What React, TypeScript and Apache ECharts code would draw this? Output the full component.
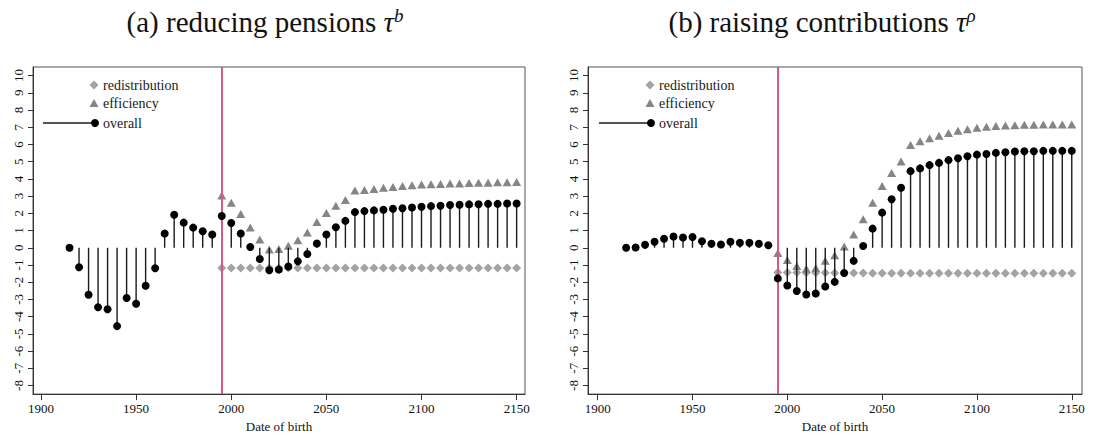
import React, { useEffect, useRef } from 'react';
import * as echarts from 'echarts';

// ---------- data ----------
const birthYears = [
  1915, 1920, 1925, 1930, 1935, 1940, 1945, 1950, 1955, 1960, 1965, 1970, 1975, 1980, 1985, 1990,
  1995, 2000, 2005, 2010, 2015, 2020, 2025, 2030, 2035, 2040, 2045, 2050, 2055, 2060, 2065, 2070,
  2075, 2080, 2085, 2090, 2095, 2100, 2105, 2110, 2115, 2120, 2125, 2130, 2135, 2140, 2145, 2150,
];
const reformYears = [
  1995, 2000, 2005, 2010, 2015, 2020, 2025, 2030, 2035, 2040, 2045, 2050, 2055, 2060, 2065, 2070,
  2075, 2080, 2085, 2090, 2095, 2100, 2105, 2110, 2115, 2120, 2125, 2130, 2135, 2140, 2145, 2150,
];

// (a) reducing pensions
const pensionsOverall = [
  0, -1.13, -2.73, -3.46, -3.57, -4.55, -2.92, -3.25, -2.21, -1.19, 0.83, 1.92, 1.46, 1.17, 0.96, 0.77,
  1.84, 1.44, 0.83, 0.04, -0.65, -1.31, -1.27, -1.09, -0.79, -0.36, 0.25, 0.77, 1.19, 1.56, 2.07, 2.13,
  2.17, 2.21, 2.27, 2.3, 2.34, 2.38, 2.42, 2.44, 2.48, 2.5, 2.52, 2.53, 2.55, 2.55, 2.57, 2.57,
];
const pensionsEfficiency = [
  3.03, 2.61, 1.96, 1.17, 0.48, -0.1, -0.07, 0.11, 0.44, 0.88, 1.5, 2.02, 2.44, 2.78, 3.32, 3.36,
  3.42, 3.48, 3.53, 3.59, 3.63, 3.67, 3.69, 3.71, 3.73, 3.74, 3.76, 3.78, 3.78, 3.8, 3.8, 3.82,
];
const pensionsRedistribution = [
  -1.17, -1.17, -1.17, -1.17, -1.17, -1.17, -1.17, -1.17, -1.17, -1.17, -1.17, -1.17, -1.17, -1.17, -1.17, -1.17,
  -1.17, -1.17, -1.17, -1.17, -1.17, -1.17, -1.17, -1.17, -1.17, -1.17, -1.17, -1.17, -1.17, -1.17, -1.17, -1.17,
];

// (b) raising contributions
const contribOverall = [
  0, 0.02, 0.17, 0.35, 0.52, 0.65, 0.6, 0.63, 0.38, 0.23, 0.19, 0.35, 0.29, 0.29, 0.23, 0.15,
  -1.78, -2.19, -2.51, -2.71, -2.66, -2.25, -1.98, -1.47, -0.76, 0.1, 1.11, 2.04, 2.82, 3.49, 4.45, 4.61,
  4.8, 4.93, 5.09, 5.2, 5.32, 5.41, 5.45, 5.51, 5.55, 5.59, 5.61, 5.61, 5.63, 5.63, 5.63, 5.63,
];
const contribEfficiency = [
  -0.3, -0.71, -1.06, -1.22, -1.17, -0.75, -0.44, 0.08, 0.77, 1.65, 2.61, 3.59, 4.34, 5.01, 5.97, 6.18,
  6.36, 6.51, 6.66, 6.8, 6.89, 6.97, 7.03, 7.07, 7.1, 7.12, 7.14, 7.14, 7.16, 7.16, 7.16, 7.16,
];
const contribRedistribution = [
  -1.44, -1.44, -1.44, -1.45, -1.45, -1.45, -1.46, -1.46, -1.47, -1.47, -1.48, -1.48, -1.48, -1.48, -1.48, -1.48,
  -1.48, -1.48, -1.48, -1.48, -1.48, -1.48, -1.48, -1.48, -1.48, -1.48, -1.48, -1.48, -1.48, -1.48, -1.48, -1.48,
];

const xTickValues = [1900, 1950, 2000, 2050, 2100, 2150];
const yTickValues = [-8, -7, -6, -5, -4, -3, -2, -1, 0, 1, 2, 3, 4, 5, 6, 7, 8, 9, 10];
const reformYear = 1995;
const legendNames = ['redistribution', 'efficiency', 'overall'];

// ---------- styling ----------
const SERIF = "'Liberation Serif', 'Times New Roman', serif";
const RED = '#d65a7e';
const DIAMOND = '#a3a3a3';
const TRI = '#858585';

const zip = (xs: number[], ys: number[]) => xs.map((x, i) => [x, ys[i]]);

function panelAxes(gridIndex: number, xmin: number, xmax: number) {
  const x = {
    gridIndex,
    type: 'value',
    min: xmin,
    max: xmax,
    axisLine: { show: true, onZero: false, lineStyle: { color: '#333', width: 1 } },
    axisTick: { show: true, customValues: xTickValues, length: 6, lineStyle: { color: '#333' } },
    axisLabel: {
      customValues: xTickValues,
      formatter: (v: number) => String(v),
      fontFamily: SERIF,
      fontSize: 13,
      color: '#111',
      margin: 8,
    },
    splitLine: { show: false },
    name: 'Date of birth',
    nameLocation: 'middle',
    nameGap: 24,
    nameTextStyle: { fontFamily: SERIF, fontSize: 13, color: '#111' },
  };
  const y = {
    gridIndex,
    type: 'value',
    min: -8.5,
    max: 10.5,
    axisLine: { show: true, onZero: false, lineStyle: { color: '#333', width: 1 } },
    axisTick: { show: true, customValues: yTickValues, length: 5, lineStyle: { color: '#333' } },
    axisLabel: {
      customValues: yTickValues,
      formatter: (v: number) => String(v),
      rotate: 90,
      fontFamily: SERIF,
      fontSize: 13,
      color: '#111',
      margin: 8,
    },
    splitLine: { show: false },
  };
  return { x, y };
}

function panelSeries(idx: number, overall: number[], eff: number[], redis: number[]) {
  return [
    {
      name: legendNames[0],
      type: 'scatter',
      xAxisIndex: idx,
      yAxisIndex: idx,
      data: zip(reformYears, redis),
      symbol: 'diamond',
      symbolSize: [9, 9],
      itemStyle: { color: DIAMOND, opacity: 1 },
      z: 2,
      markLine: {
        silent: true,
        symbol: 'none',
        label: { show: false },
        lineStyle: { color: RED, width: 2, type: 'solid', opacity: 1 },
        data: [{ xAxis: reformYear }],
      },
    },
    {
      name: legendNames[1],
      type: 'scatter',
      xAxisIndex: idx,
      yAxisIndex: idx,
      data: zip(reformYears, eff),
      symbol: 'triangle',
      symbolSize: [9, 8],
      itemStyle: { color: TRI, opacity: 1 },
      z: 3,
    },
    {
      name: legendNames[2] + ' stem',
      type: 'custom',
      xAxisIndex: idx,
      yAxisIndex: idx,
      data: zip(birthYears, overall),
      encode: { x: 0, y: 1 },
      z: 4,
      renderItem: (params: any, api: any) => {
        const xv = api.value(0);
        const yv = api.value(1);
        const p0 = api.coord([xv, 0]);
        const p1 = api.coord([xv, yv]);
        return {
          type: 'line',
          shape: { x1: p0[0], y1: p0[1], x2: p1[0], y2: p1[1] },
          style: { stroke: '#1a1a1a', lineWidth: 1.4 },
        };
      },
    },
    {
      name: legendNames[2],
      type: 'scatter',
      xAxisIndex: idx,
      yAxisIndex: idx,
      data: zip(birthYears, overall),
      symbol: 'circle',
      symbolSize: 8,
      itemStyle: { color: '#000', opacity: 1 },
      z: 5,
    },
  ];
}

function legendGraphics(lx: number, lineStart: number) {
  const text = (label: string, y: number) => ({
    type: 'text',
    style: {
      text: label,
      x: lx + 9,
      y,
      verticalAlign: 'middle',
      align: 'left',
      font: `14px ${SERIF}`,
      fill: '#1a1a1a',
    },
  });
  return [
    {
      type: 'polygon',
      shape: { points: [[lx, 80.5], [lx + 4.5, 85], [lx, 89.5], [lx - 4.5, 85]] },
      style: { fill: DIAMOND },
    },
    text(legendNames[0], 85),
    {
      type: 'polygon',
      shape: { points: [[lx, 99], [lx + 4.5, 107], [lx - 4.5, 107]] },
      style: { fill: TRI },
    },
    text(legendNames[1], 103),
    {
      type: 'line',
      shape: { x1: lineStart, y1: 123, x2: lx, y2: 123 },
      style: { stroke: '#1a1a1a', lineWidth: 1.4 },
    },
    { type: 'circle', shape: { cx: lx + 1, cy: 123, r: 4 }, style: { fill: '#000' } },
    text(legendNames[2], 123),
  ];
}

function titleGraphic(x: number, label: string, sup: string) {
  return {
    type: 'text',
    style: {
      text: `${label} {it|τ}{sup|${sup}}`,
      x,
      y: 22,
      align: 'center',
      verticalAlign: 'middle',
      font: `29px ${SERIF}`,
      fill: '#111',
      rich: {
        it: { fontFamily: SERIF, fontSize: 29, fontStyle: 'italic', fill: '#111', lineHeight: 32 },
        sup: { fontFamily: SERIF, fontSize: 19, fontStyle: 'italic', fill: '#111', verticalAlign: 'top', lineHeight: 19 },
      },
    },
  };
}

export default function App() {
  const ref = useRef<HTMLDivElement>(null);
  useEffect(() => {
    document.body.style.margin = '0';
    const chart = echarts.init(ref.current!, null, { renderer: 'svg' });
    const a = panelAxes(0, 1895.8, 2154.4);
    const b = panelAxes(1, 1894.9, 2155.4);
    chart.setOption({
      animation: false,
      backgroundColor: '#fff',
      grid: [
        { left: 33, top: 67, width: 492, height: 330, show: true, borderColor: '#555', borderWidth: 1, backgroundColor: 'transparent' },
        { left: 588, top: 67, width: 494, height: 330, show: true, borderColor: '#555', borderWidth: 1, backgroundColor: 'transparent' },
      ],
      xAxis: [a.x, b.x],
      yAxis: [a.y, b.y],
      series: [
        ...panelSeries(0, pensionsOverall, pensionsEfficiency, pensionsRedistribution),
        ...panelSeries(1, contribOverall, contribEfficiency, contribRedistribution),
      ],
      graphic: [
        titleGraphic(265, '(a) reducing pensions', 'b'),
        titleGraphic(822, '(b) raising contributions', 'ρ'),
        ...legendGraphics(94, 43),
        ...legendGraphics(650, 599),
      ],
    });
    return () => chart.dispose();
  }, []);
  return <div ref={ref} style={{ width: 1094, height: 438 }} />;
}
